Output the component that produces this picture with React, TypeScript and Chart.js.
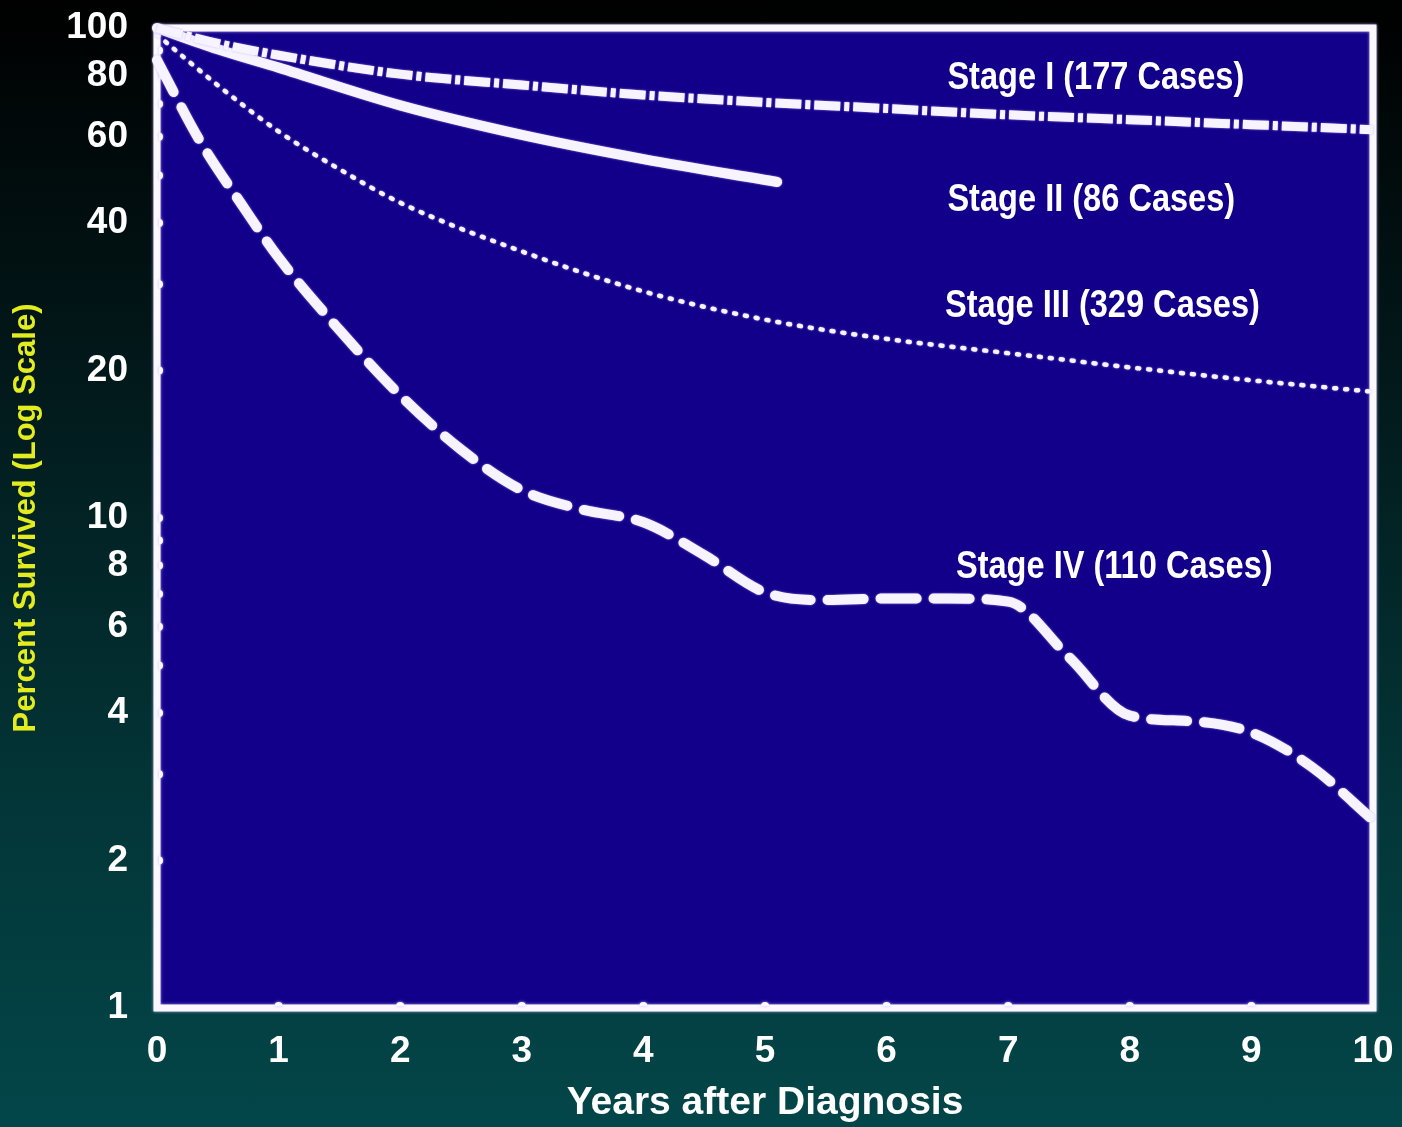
import React, { useEffect, useRef } from "react";
import { Chart, registerables } from "chart.js";

Chart.register(...registerables);

// ---- Data (years after diagnosis, percent survived) ----
const stage1X = [0, 0.5, 1, 2, 3, 4, 5, 6, 7, 8, 9, 10];
const stage1Y = [100, 93, 88, 80.5, 76.5, 73, 70.5, 68.5, 66.5, 65, 63.5, 62];

const stage2X = [0, 0.5, 1, 2, 3, 4, 5.1];
const stage2Y = [100, 90.5, 83, 69.5, 60.5, 54, 48.5];

const stage3X = [0, 0.2, 0.6, 1, 1.5, 2, 3, 4, 5, 6, 7, 8, 9, 10];
const stage3Y = [97, 88, 73, 61.5, 51.5, 44, 35, 29, 25.4, 23.2, 21.7, 20.3, 19.1, 18.1];

const stage4X = [0, 0.35, 0.7, 1, 1.5, 2, 2.5, 3, 3.5, 4, 4.5, 5, 5.5, 6, 6.5, 7, 7.5, 8, 8.5, 9, 9.5, 10];
const stage4Y = [86, 59, 43.5, 34, 24.2, 17.8, 13.8, 11.4, 10.4, 9.8, 8.4, 7.05, 6.8, 6.85, 6.85, 6.75, 5.2, 3.95, 3.85, 3.65, 3.1, 2.42];

const yTickValues = [1, 2, 4, 6, 8, 10, 20, 40, 60, 80, 100];
const yMinorMarks = [2, 3, 4, 5, 6, 7, 8, 9, 10, 20, 30, 40, 50, 60, 70, 80, 90];
const xMinorMarks = [1, 2, 3, 4, 5, 6, 7, 8, 9];

const stageLabels = ["Stage I (177 Cases)", "Stage II (86 Cases)", "Stage III (329 Cases)", "Stage IV (110 Cases)"];
const labelAnchorX = [6.5, 6.5, 6.48, 6.57];
const labelAnchorY = [79, 44.6, 27.1, 7.94];

const FONT = "'Liberation Sans', Arial, Helvetica, sans-serif";
const LINE_COLOR = "#f7f4ff";

const pts = (xs: number[], ys: number[]) => xs.map((x, i) => ({ x, y: ys[i] }));

const framePlugin = {
  id: "frame",
  beforeDraw(chart: any) {
    const { ctx, chartArea: a } = chart;
    ctx.save();
    ctx.fillStyle = "#13008a";
    ctx.fillRect(a.left, a.top, a.right - a.left, a.bottom - a.top);
    ctx.restore();
  },
  beforeDatasetsDraw(chart: any) {
    const { ctx, chartArea: a, scales } = chart;
    ctx.save();
    ctx.strokeStyle = "#fbf9ff";
    ctx.shadowColor = "rgba(200,180,255,0.9)";
    ctx.shadowBlur = 3;
    ctx.lineWidth = 7;
    ctx.strokeRect(a.left, a.top, a.right - a.left, a.bottom - a.top);
    ctx.fillStyle = "#fbf9ff";
    for (const v of yMinorMarks) {
      const y = scales.y.getPixelForValue(v);
      ctx.beginPath();
      ctx.arc(a.left + 2, y, 4, -Math.PI / 2, Math.PI / 2);
      ctx.fill();
    }
    for (const v of xMinorMarks) {
      const x = scales.x.getPixelForValue(v);
      ctx.beginPath();
      ctx.arc(x, a.bottom - 2, 4, Math.PI, 2 * Math.PI);
      ctx.fill();
    }
    ctx.restore();
    ctx.save();
    ctx.shadowColor = "rgba(190,170,255,0.85)";
    ctx.shadowBlur = 2;
  },
  afterDatasetsDraw(chart: any) {
    chart.ctx.restore();
  },
};

const labelPlugin = {
  id: "stageLabels",
  afterDatasetsDraw(chart: any) {
    const { ctx, scales } = chart;
    ctx.save();
    ctx.fillStyle = "#ffffff";
    ctx.font = `bold 39px ${FONT}`;
    ctx.textAlign = "left";
    ctx.textBaseline = "middle";
    stageLabels.forEach((t, i) => {
      const x = scales.x.getPixelForValue(labelAnchorX[i]);
      const y = scales.y.getPixelForValue(labelAnchorY[i]);
      ctx.save();
      ctx.translate(x, y);
      ctx.scale(0.835, 1);
      ctx.fillText(t, 0, 0);
      ctx.restore();
    });
    ctx.restore();
  },
};

export default function App() {
  const ref = useRef<HTMLCanvasElement>(null);

  useEffect(() => {
    const canvas = ref.current;
    if (!canvas) return;
    const common = {
      borderColor: LINE_COLOR,
      pointRadius: 0,
      fill: false,
      cubicInterpolationMode: "monotone" as const,
      clip: 10,
    };
    const chart = new Chart(canvas, {
      type: "line",
      data: {
        datasets: [
          {
            ...common,
            label: stageLabels[0],
            data: pts(stage1X, stage1Y),
            borderWidth: 9,
            borderDash: [26, 4, 5, 4],
            borderCapStyle: "butt",
          },
          {
            ...common,
            label: stageLabels[1],
            data: pts(stage2X, stage2Y),
            borderWidth: 10,
            borderCapStyle: "round",
          },
          {
            ...common,
            label: stageLabels[2],
            data: pts(stage3X, stage3Y),
            borderWidth: 4.5,
            borderDash: [2, 9],
            borderCapStyle: "round",
          },
          {
            ...common,
            label: stageLabels[3],
            data: pts(stage4X, stage4Y),
            borderWidth: 10,
            borderDash: [36, 17],
            borderCapStyle: "round",
          },
        ],
      },
      options: {
        responsive: false,
        animation: false,
        layout: { padding: { top: 28, right: 29, left: 0, bottom: 0 } },
        plugins: {
          legend: { display: false },
          tooltip: { enabled: false },
        },
        scales: {
          x: {
            type: "linear",
            min: 0,
            max: 10,
            border: { display: false },
            grid: { display: false, drawTicks: false },
            ticks: {
              stepSize: 1,
              maxRotation: 0,
              autoSkip: false,
              color: "#ffffff",
              padding: 22,
              font: { family: FONT, size: 37, weight: "bold" },
              callback: (v: any) => String(v),
            },
            title: {
              display: true,
              text: "Years after Diagnosis",
              color: "#ffffff",
              font: { family: FONT, size: 39, weight: "bold" },
              padding: { top: 0, bottom: 0 },
            },
            afterFit: (s: any) => {
              s.height = 119;
              s.paddingLeft = 0;
              s.paddingRight = 0;
            },
          },
          y: {
            type: "logarithmic",
            min: 1,
            max: 100,
            border: { display: false },
            grid: { display: false, drawTicks: false },
            afterBuildTicks: (s: any) => {
              s.ticks = yTickValues.map((v) => ({ value: v }));
            },
            ticks: {
              autoSkip: false,
              color: "#ffffff",
              padding: 29,
              font: { family: FONT, size: 37, weight: "bold" },
              callback: (v: any) => String(v),
            },
            title: {
              display: true,
              text: "Percent Survived (Log Scale)",
              color: "#e2ec1e",
              font: { family: FONT, size: 31, weight: "bold" },
              padding: { top: 8, bottom: 0 },
            },
            afterFit: (s: any) => {
              s.width = 157;
              s.paddingTop = 0;
              s.paddingBottom = 0;
            },
          },
        },
      },
      plugins: [framePlugin, labelPlugin],
    });
    return () => chart.destroy();
  }, []);

  return (
    <div
      style={{
        position: "fixed",
        left: 0,
        top: 0,
        width: 1402,
        height: 1127,
        background: "linear-gradient(to bottom, #000000 0%, #021a1c 35%, #033537 70%, #034649 100%)",
      }}
    >
      <canvas ref={ref} width={1402} height={1127} style={{ display: "block", width: 1402, height: 1127 }} />
    </div>
  );
}
